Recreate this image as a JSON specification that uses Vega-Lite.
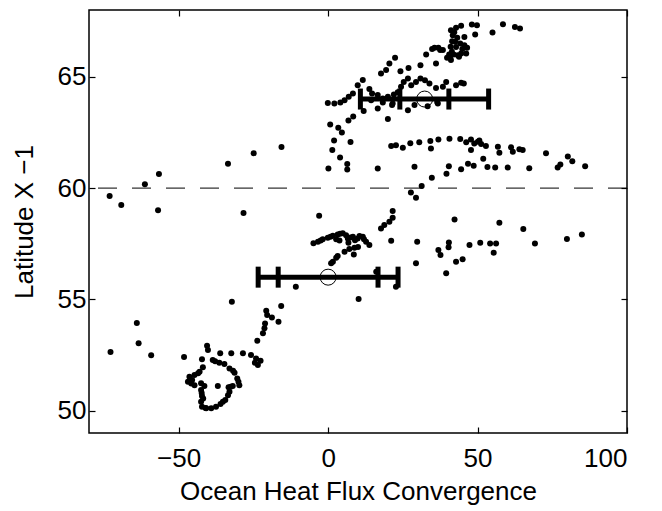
{
  "$schema": "https://vega.github.io/schema/vega-lite/v6.json",
  "width": 538,
  "height": 423,
  "autosize": "none",
  "padding": {"left": 89, "top": 10, "right": 35, "bottom": 78},
  "background": "white",
  "config": {
    "view": {"stroke": "black", "strokeWidth": 1.5},
    "font": "Liberation Sans",
    "axis": {
      "grid": false, "domain": false, "tickColor": "black", "tickWidth": 1.2,
      "labelColor": "black", "titleColor": "black", "labelFontSize": 26, "titleFontSize": 26,
      "titleFontWeight": "normal", "labelFont": "Liberation Sans", "titleFont": "Liberation Sans"
    }
  },
  "datasets": {
    "pts": [
      {"x": -73.1, "y": 59.65}, {"x": -69.2, "y": 59.24}, {"x": -61.3, "y": 60.17}, {"x": -56.6, "y": 60.63},
      {"x": -56.9, "y": 59.0}, {"x": -33.5, "y": 61.09}, {"x": -24.9, "y": 61.57}, {"x": -15.6, "y": 61.85},
      {"x": -28.3, "y": 58.88}, {"x": -3.0, "y": 58.76},
      {"x": -72.8, "y": 52.64}, {"x": -64.0, "y": 53.94}, {"x": -63.4, "y": 53.03}, {"x": -59.2, "y": 52.49},
      {"x": -48.2, "y": 52.41}, {"x": -32.2, "y": 54.89}, {"x": -15.7, "y": 54.71}, {"x": -10.8, "y": 55.57},
      {"x": 10.2, "y": 55.02},
      {"x": -20.7, "y": 54.49}, {"x": -20.4, "y": 54.3}, {"x": -18.8, "y": 54.19}, {"x": -16.6, "y": 54.0},
      {"x": -21.1, "y": 53.92}, {"x": -21.3, "y": 53.7}, {"x": -21.8, "y": 53.48}, {"x": -23.7, "y": 53.14},
      {"x": -40.5, "y": 52.92}, {"x": -40.2, "y": 52.73}, {"x": -36.1, "y": 52.58}, {"x": -32.4, "y": 52.58},
      {"x": -28.5, "y": 52.58}, {"x": -25.8, "y": 52.5}, {"x": -24.1, "y": 52.35}, {"x": -22.6, "y": 52.24},
      {"x": -23.5, "y": 52.05}, {"x": -42.2, "y": 52.31}, {"x": -38.6, "y": 52.28}, {"x": -36.4, "y": 52.16},
      {"x": -34.7, "y": 52.1}, {"x": -33.0, "y": 51.9}, {"x": -31.3, "y": 51.71}, {"x": -30.4, "y": 51.45},
      {"x": -29.7, "y": 51.15}, {"x": -31.9, "y": 51.11}, {"x": -33.3, "y": 51.05}, {"x": -33.0, "y": 50.85},
      {"x": -33.5, "y": 50.7}, {"x": -34.4, "y": 50.48}, {"x": -36.0, "y": 50.3}, {"x": -37.5, "y": 50.18},
      {"x": -39.1, "y": 50.11}, {"x": -40.8, "y": 50.11}, {"x": -42.2, "y": 50.18}, {"x": -42.5, "y": 50.4},
      {"x": -42.2, "y": 50.66}, {"x": -42.5, "y": 50.93}, {"x": -41.4, "y": 51.11}, {"x": -42.5, "y": 51.23},
      {"x": -44.7, "y": 51.15}, {"x": -46.9, "y": 51.3}, {"x": -46.4, "y": 51.53}, {"x": -44.7, "y": 51.6},
      {"x": -43.0, "y": 51.75}, {"x": -41.9, "y": 51.95}, {"x": -36.9, "y": 51.11}, {"x": -45.5, "y": 51.38},
      {"x": -41.8, "y": 50.55}, {"x": -42.3, "y": 50.8}, {"x": -35.2, "y": 50.4}, {"x": -30.0, "y": 51.3},
      {"x": -32.6, "y": 51.08}, {"x": -45.8, "y": 51.22}, {"x": -43.5, "y": 51.68}, {"x": -41.0, "y": 50.12},
      {"x": -37.8, "y": 52.22}, {"x": -31.8, "y": 51.8}, {"x": -24.5, "y": 52.15},
      {"x": 21.6, "y": 58.97}, {"x": 21.6, "y": 58.67}, {"x": 20.5, "y": 58.49}, {"x": 18.8, "y": 58.34},
      {"x": 17.7, "y": 58.19}, {"x": 21.1, "y": 57.63}, {"x": -4.9, "y": 57.52}, {"x": -3.4, "y": 57.59},
      {"x": -1.8, "y": 57.7}, {"x": -0.1, "y": 57.77}, {"x": 1.6, "y": 57.86}, {"x": 3.2, "y": 57.92},
      {"x": 4.9, "y": 57.97}, {"x": 2.7, "y": 57.7}, {"x": 6.6, "y": 57.74}, {"x": 8.3, "y": 57.81},
      {"x": 9.9, "y": 57.74}, {"x": 11.6, "y": 57.81}, {"x": 12.7, "y": 57.59}, {"x": 13.8, "y": 57.44},
      {"x": 8.8, "y": 57.32}, {"x": 7.1, "y": 57.26}, {"x": 5.5, "y": 57.14}, {"x": 8.6, "y": 57.02},
      {"x": 2.7, "y": 56.87}, {"x": 1.6, "y": 56.69}, {"x": 1.0, "y": 56.62}, {"x": 3.2, "y": 56.95},
      {"x": -2.5, "y": 57.65}, {"x": 0.8, "y": 57.82}, {"x": 4.0, "y": 57.95}, {"x": 6.0, "y": 57.88},
      {"x": 7.5, "y": 57.78}, {"x": 10.5, "y": 57.85}, {"x": 12.0, "y": 57.7}, {"x": 9.0, "y": 57.66},
      {"x": 3.8, "y": 57.65}, {"x": 6.8, "y": 57.55}, {"x": 10.0, "y": 57.35},
      {"x": 16.1, "y": 56.24}, {"x": 22.7, "y": 55.57}, {"x": 29.8, "y": 57.59}, {"x": 29.4, "y": 56.62},
      {"x": 42.3, "y": 58.59}, {"x": 36.9, "y": 57.22}, {"x": 37.6, "y": 56.99}, {"x": 40.4, "y": 57.56},
      {"x": 40.3, "y": 57.34}, {"x": 39.5, "y": 56.17}, {"x": 42.8, "y": 56.69}, {"x": 45.0, "y": 56.8},
      {"x": 47.3, "y": 57.44}, {"x": 50.9, "y": 57.54}, {"x": 54.2, "y": 57.51}, {"x": 56.2, "y": 57.51},
      {"x": 55.4, "y": 57.1}, {"x": 57.3, "y": 58.44}, {"x": 65.3, "y": 58.16}, {"x": 69.2, "y": 57.51},
      {"x": 79.9, "y": 57.71}, {"x": 84.9, "y": 57.92},
      {"x": 0.1, "y": 60.88}, {"x": 6.4, "y": 60.84}, {"x": 6.4, "y": 61.08}, {"x": 4.0, "y": 61.38},
      {"x": 1.4, "y": 61.71}, {"x": 7.5, "y": 62.07}, {"x": 2.0, "y": 62.14}, {"x": 4.6, "y": 62.5},
      {"x": 3.4, "y": 62.71}, {"x": 0.7, "y": 62.86}, {"x": 6.8, "y": 63.04}, {"x": 8.4, "y": 63.22},
      {"x": 11.9, "y": 63.46}, {"x": 16.6, "y": 60.88}, {"x": 16.6, "y": 63.58}, {"x": 20.0, "y": 63.1},
      {"x": 26.7, "y": 63.5}, {"x": 21.4, "y": 63.73}, {"x": 33.3, "y": 63.68}, {"x": 36.5, "y": 63.87},
      {"x": 28.9, "y": 63.73},
      {"x": 21.1, "y": 61.89}, {"x": 22.7, "y": 61.93}, {"x": 25.0, "y": 61.81}, {"x": 27.5, "y": 62.01},
      {"x": 30.5, "y": 62.06}, {"x": 34.2, "y": 62.12}, {"x": 34.4, "y": 61.78}, {"x": 36.9, "y": 62.18},
      {"x": 40.6, "y": 62.22}, {"x": 44.2, "y": 62.21}, {"x": 46.2, "y": 62.06}, {"x": 47.8, "y": 62.18},
      {"x": 48.9, "y": 62.0}, {"x": 50.1, "y": 62.08}, {"x": 51.2, "y": 61.98}, {"x": 52.8, "y": 61.89},
      {"x": 50.6, "y": 62.14}, {"x": 47.8, "y": 61.71}, {"x": 56.8, "y": 61.86}, {"x": 57.3, "y": 61.59},
      {"x": 61.2, "y": 61.83}, {"x": 61.8, "y": 61.63}, {"x": 64.0, "y": 61.74}, {"x": 65.1, "y": 61.71},
      {"x": 72.9, "y": 61.56}, {"x": 80.2, "y": 61.42}, {"x": 81.7, "y": 61.21}, {"x": 77.7, "y": 61.06},
      {"x": 76.8, "y": 60.93}, {"x": 86.0, "y": 60.98}, {"x": 28.9, "y": 60.96}, {"x": 40.4, "y": 60.98},
      {"x": 44.5, "y": 60.85}, {"x": 46.8, "y": 61.09}, {"x": 48.7, "y": 61.0}, {"x": 51.9, "y": 61.32},
      {"x": 53.3, "y": 60.95}, {"x": 55.9, "y": 60.92}, {"x": 60.1, "y": 60.92}, {"x": 67.3, "y": 60.89},
      {"x": 39.6, "y": 60.64}, {"x": 34.7, "y": 60.46}, {"x": 31.3, "y": 60.1}, {"x": 27.7, "y": 59.8},
      {"x": 29.4, "y": 59.57},
      {"x": -0.1, "y": 63.82}, {"x": 2.1, "y": 63.8}, {"x": 4.1, "y": 63.85}, {"x": 5.5, "y": 63.95},
      {"x": 6.9, "y": 64.1}, {"x": 8.3, "y": 64.25}, {"x": 9.9, "y": 64.62}, {"x": 11.6, "y": 64.86},
      {"x": 13.8, "y": 64.45}, {"x": 14.7, "y": 64.25}, {"x": 16.6, "y": 64.18}, {"x": 18.3, "y": 64.03},
      {"x": 20.0, "y": 64.1}, {"x": 22.0, "y": 64.21}, {"x": 23.3, "y": 64.3}, {"x": 24.4, "y": 64.55},
      {"x": 25.3, "y": 64.77}, {"x": 26.7, "y": 64.92}, {"x": 27.8, "y": 64.62}, {"x": 29.4, "y": 64.77},
      {"x": 30.9, "y": 64.92}, {"x": 32.4, "y": 64.85}, {"x": 33.9, "y": 64.7}, {"x": 36.1, "y": 64.5},
      {"x": 38.4, "y": 64.55}, {"x": 39.5, "y": 64.77}, {"x": 42.8, "y": 64.62}, {"x": 45.4, "y": 64.7},
      {"x": 44.5, "y": 64.73}, {"x": 17.7, "y": 65.15}, {"x": 19.4, "y": 65.3}, {"x": 20.5, "y": 65.6},
      {"x": 22.4, "y": 65.85}, {"x": 24.2, "y": 65.25}, {"x": 26.9, "y": 65.4}, {"x": 30.9, "y": 65.52},
      {"x": 32.8, "y": 66.0}, {"x": 36.1, "y": 65.6}, {"x": 35.6, "y": 66.3}, {"x": 36.9, "y": 66.3},
      {"x": 38.4, "y": 66.2}, {"x": 39.8, "y": 65.85}, {"x": 41.1, "y": 65.75}, {"x": 41.4, "y": 66.12},
      {"x": 42.8, "y": 66.34}, {"x": 43.4, "y": 65.97}, {"x": 44.5, "y": 66.05}, {"x": 46.2, "y": 66.05},
      {"x": 42.5, "y": 66.57}, {"x": 44.2, "y": 66.5}, {"x": 45.6, "y": 66.42}, {"x": 41.7, "y": 66.87},
      {"x": 41.1, "y": 67.09}, {"x": 42.8, "y": 67.2}, {"x": 44.5, "y": 67.29}, {"x": 45.6, "y": 66.79},
      {"x": 48.1, "y": 67.35}, {"x": 49.2, "y": 66.9}, {"x": 49.8, "y": 67.32}, {"x": 55.0, "y": 66.99},
      {"x": 58.5, "y": 67.36}, {"x": 62.5, "y": 67.24}, {"x": 64.2, "y": 67.17}, {"x": 14.4, "y": 63.95},
      {"x": 18.3, "y": 63.85}, {"x": 21.6, "y": 63.8}, {"x": 36.7, "y": 63.8},
      {"x": 41.5, "y": 66.6}, {"x": 42.0, "y": 66.0}, {"x": 43.8, "y": 65.9}, {"x": 44.9, "y": 66.25},
      {"x": 46.5, "y": 66.3}, {"x": 40.5, "y": 66.0}, {"x": 42.2, "y": 67.0}, {"x": 43.2, "y": 66.75},
      {"x": 40.8, "y": 65.9}, {"x": 34.8, "y": 66.25}, {"x": 37.5, "y": 66.2}, {"x": 41.0, "y": 66.35}
    ],
    "bars": [
      {"y": 64, "c": 32.3, "lo": 10.8, "hi": 53.7},
      {"y": 56, "c": 0, "lo": -23.4, "hi": 23.4}
    ],
    "caps": [
      {"y": 64, "x": 10.8}, {"y": 64, "x": 24.0}, {"y": 64, "x": 40.4}, {"y": 64, "x": 53.7},
      {"y": 56, "x": -23.4}, {"y": 56, "x": -16.7}, {"y": 56, "x": 16.7}, {"y": 56, "x": 23.4}
    ],
    "ref": [{"y": 60}]
  },
  "resolve": {"axis": {"x": "independent", "y": "independent"}},
  "layer": [
    {
      "data": {"name": "ref"},
      "mark": {"type": "rule", "color": "black", "strokeWidth": 1, "strokeDash": [19, 15]},
      "encoding": {
        "y": {"field": "y", "type": "quantitative", "scale": {"domain": [49, 68], "nice": false, "zero": false}, "axis": null}
      }
    },
    {
      "data": {"name": "pts"},
      "mark": {"type": "point", "filled": true, "color": "black", "size": 36, "opacity": 1},
      "encoding": {
        "x": {"field": "x", "type": "quantitative",
          "scale": {"domain": [-80, 100], "nice": false, "zero": false},
          "axis": {"orient": "bottom", "values": [-50, 0, 50, 100], "tickSize": -6, "labelPadding": 18,
            "title": "Ocean Heat Flux Convergence", "titlePadding": 7, "format": "d"}},
        "y": {"field": "y", "type": "quantitative",
          "scale": {"domain": [49, 68], "nice": false, "zero": false},
          "axis": {"orient": "left", "values": [50, 55, 60, 65], "tickSize": -6, "labelPadding": 9,
            "title": "Latitude X −1", "titlePadding": 20}}
      }
    },
    {
      "data": {"name": "bars"},
      "mark": {"type": "rule", "color": "black", "strokeWidth": 5},
      "encoding": {
        "x": {"field": "lo", "type": "quantitative", "axis": null},
        "x2": {"field": "hi"},
        "y": {"field": "y", "type": "quantitative", "axis": null}
      }
    },
    {
      "data": {"name": "caps"},
      "mark": {"type": "tick", "orient": "vertical", "color": "black", "size": 21, "thickness": 5, "opacity": 1},
      "encoding": {
        "x": {"field": "x", "type": "quantitative",
          "axis": {"orient": "top", "values": [-50, 0, 50, 100], "tickSize": -6, "labels": false, "title": null}},
        "y": {"field": "y", "type": "quantitative",
          "axis": {"orient": "right", "values": [50, 55, 60, 65], "tickSize": -6, "labels": false, "title": null}}
      }
    },
    {
      "data": {"name": "bars"},
      "mark": {"type": "point", "filled": false, "color": "black", "size": 256, "strokeWidth": 1, "opacity": 1},
      "encoding": {
        "x": {"field": "c", "type": "quantitative", "axis": null},
        "y": {"field": "y", "type": "quantitative", "axis": null}
      }
    }
  ]
}
